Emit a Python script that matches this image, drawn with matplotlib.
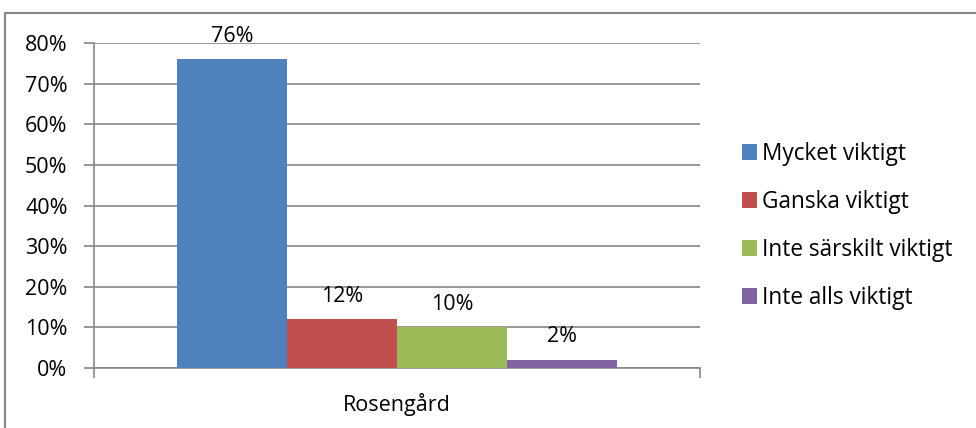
import matplotlib
matplotlib.use("Agg")
import matplotlib.pyplot as plt
from matplotlib.lines import Line2D
from matplotlib.patches import Patch

categories = ["Rosengård"]
series = ["Mycket viktigt", "Ganska viktigt", "Inte särskilt viktigt", "Inte alls viktigt"]
values = [76, 12, 10, 2]
colors = ["#4F81BD", "#C0504D", "#9BBB59", "#8064A2"]
yticks = [0, 10, 20, 30, 40, 50, 60, 70, 80]

plt.rcParams['font.family'] = ['Open Sans', 'DejaVu Sans']
FS = 15.5
W, H = 976, 428
fig = plt.figure(figsize=(W/100, H/100), dpi=100)
ax = fig.add_axes([94/W, 1-368/H, (700-94)/W, (368-43)/H])

bw = 110/606
n = len(values)
for i, (s, v, c) in enumerate(zip(series, values, colors)):
    x = (i - (n-1)/2) * bw
    ax.bar(x, v, width=bw, color=c, label=s, zorder=3)
    ax.annotate(f"{v}%", (x, v), xytext=(0, 16.5), textcoords="offset points",
                ha="center", va="center", fontsize=FS, color="black", zorder=4)

ax.set_xlim(-0.5, 0.5)
ax.set_ylim(0, 80)
ax.set_yticks(yticks)
ax.set_yticklabels([f"{t}%" for t in yticks], fontsize=FS)
ax.yaxis.grid(True, color="#868686", linewidth=1.2, zorder=0)
ax.set_xticks([-0.5, 0.5])
ax.set_xticklabels(["", ""])
ax.tick_params(axis="x", length=7, width=1.2, color="#868686")
ax.tick_params(axis="y", length=7, width=1.2, color="#868686", pad=12)
for side in ["top", "right"]:
    ax.spines[side].set_visible(False)
for side in ["left", "bottom"]:
    ax.spines[side].set_color("#868686")
    ax.spines[side].set_linewidth(1.2)
ax.annotate(categories[0], (0.5, 0), xycoords="axes fraction", xytext=(0, -26),
            textcoords="offset points", ha="center", va="center", fontsize=FS)

handles = [Patch(facecolor=c, label=s) for s, c in zip(series, colors)]
fig.legend(handles=handles, loc="upper left", bbox_to_anchor=(742/W, 1-142/H),
           frameon=False, fontsize=FS + 0.8, handlelength=0.65, handleheight=0.65,
           handletextpad=0.25, labelspacing=1.06, borderaxespad=0, borderpad=0)

fig.add_artist(Line2D([5/W, 5/W], [0, 1-13/H], color="#868686", linewidth=1.5, transform=fig.transFigure))
fig.add_artist(Line2D([5/W, 1], [1-13/H, 1-13/H], color="#868686", linewidth=1.5, transform=fig.transFigure))

fig.savefig("out.png", dpi=100)
